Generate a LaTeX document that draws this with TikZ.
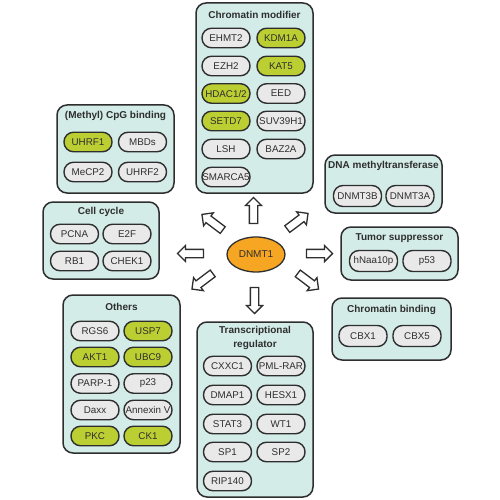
\documentclass[tikz,border=0pt]{standalone}
\usepackage{fontspec}
\setmainfont{Liberation Sans}
\usepackage{tikz}
\usetikzlibrary{shapes.geometric,shapes.arrows}
\definecolor{grpfill}{HTML}{D3ECE8}
\definecolor{genegray}{HTML}{E9E9E9}
\definecolor{genegreen}{HTML}{BBCF33}
\definecolor{huborange}{HTML}{F6A623}
\definecolor{edgedark}{HTML}{2E2E2E}
\tikzset{
  grp/.style={draw=edgedark, fill=grpfill, line width=1.5pt, rounded corners=10pt, inner sep=0pt},
  grptitle/.style={font=\fontsize{10}{14}\selectfont\bfseries, text=edgedark, align=center, inner sep=0pt},
  gene/.style={draw=edgedark, fill=genegray, line width=1.4pt, rounded corners=9.5pt, minimum width=48pt, minimum height=19.5pt, inner sep=0pt, text=edgedark, font=\fontsize{9.8}{10}\selectfont},
  genehi/.style={gene, fill=genegreen},
  hub/.style={ellipse, draw=edgedark, fill=huborange, line width=1.3pt, minimum width=58pt, minimum height=35pt, inner sep=0pt, text=edgedark, font=\fontsize{10}{11}\selectfont},
  bigarrow/.style={single arrow, draw=edgedark, fill=white, line width=1.3pt, minimum height=26pt, single arrow head extend=4pt, inner sep=3.5pt}
}

\begin{document}
\begin{tikzpicture}[x=1pt, y=-1pt]
  \useasboundingbox (0,0) rectangle (500,500);

  % group boxes
  \node[grp, minimum width=117pt, minimum height=190pt] (chrommod) at (254.5,98) {};
  \node[grp, minimum width=117pt, minimum height=88pt] (cpg) at (115.5,149) {};
  \node[grp, minimum width=116pt, minimum height=77pt] (cellcyc) at (101,240.5) {};
  \node[grp, minimum width=117pt, minimum height=158pt] (others) at (121.5,374) {};
  \node[grp, minimum width=116pt, minimum height=175pt] (transreg) at (255,409.5) {};
  \node[grp, minimum width=117pt, minimum height=58pt] (dnmtgrp) at (383.5,184) {};
  \node[grp, minimum width=117pt, minimum height=53pt] (tumsup) at (399.5,253.5) {};
  \node[grp, minimum width=119pt, minimum height=62pt] (chrombind) at (391.5,329) {};

  % titles
  \node[grptitle] (chrommod-t) at (254.5,15) {Chromatin modifier};
  \node[grptitle] (cpg-t) at (115.5,116) {(Methyl) CpG binding};
  \node[grptitle] (cellcyc-t) at (101,212) {Cell cycle};
  \node[grptitle] (others-t) at (121.5,307) {Others};
  \node[grptitle] (transreg-t) at (255,338) {Transcriptional\\regulator};
  \node[grptitle] (dnmtgrp-t) at (383.5,166) {DNA methyltransferase};
  \node[grptitle] (tumsup-t) at (399.5,238) {Tumor suppressor};
  \node[grptitle] (chrombind-t) at (391.5,310) {Chromatin binding};

  % chromatin modifier
  \node[gene] (ehmt2) at (226,38) {EHMT2};
  \node[genehi] (kdm1a) at (281,38) {KDM1A};
  \node[gene] (ezh2) at (226,66) {EZH2};
  \node[genehi] (kat5) at (281,66) {KAT5};
  \node[genehi] (hdac12) at (226,93.5) {HDAC1/2};
  \node[gene] (eed) at (281,93.5) {EED};
  \node[genehi] (setd7) at (226,121) {SETD7};
  \node[gene] (suv39h1) at (281,121) {SUV39H1};
  \node[gene] (lsh) at (226,149) {LSH};
  \node[gene] (baz2a) at (281,149) {BAZ2A};
  \node[gene] (smarca5) at (226,177) {\makebox[44pt]{SMARCA5}};

  % (methyl) CpG binding
  \node[genehi] (uhrf1) at (88,142) {UHRF1};
  \node[gene] (mbds) at (142.5,142) {MBDs};
  \node[gene] (mecp2) at (88,172) {MeCP2};
  \node[gene] (uhrf2) at (142.5,172) {UHRF2};

  % cell cycle
  \node[gene] (pcna) at (74.5,234) {PCNA};
  \node[gene] (e2f) at (127,234) {E2F};
  \node[gene] (rb1) at (74.5,261) {RB1};
  \node[gene] (chek1) at (127,261) {CHEK1};

  % others
  \node[gene] (rgs6) at (95,331) {RGS6};
  \node[genehi] (usp7) at (148,331) {USP7};
  \node[genehi] (akt1) at (95,357) {AKT1};
  \node[genehi] (ubc9) at (148,357) {UBC9};
  \node[gene] (parp1) at (95,383.5) {PARP-1};
  \node[gene] (p23) at (148,383.5) {p23};
  \node[gene] (daxx) at (95,410) {Daxx};
  \node[gene] (annexinv) at (148,410) {Annexin V};
  \node[genehi] (pkc) at (95,436) {PKC};
  \node[genehi] (ck1) at (148,436) {CK1};

  % transcriptional regulator
  \node[gene] (cxxc1) at (227.5,366) {CXXC1};
  \node[gene] (pmlrar) at (281,366) {PML-RAR};
  \node[gene] (dmap1) at (227.5,395) {DMAP1};
  \node[gene] (hesx1) at (281,395) {HESX1};
  \node[gene] (stat3) at (227.5,424) {STAT3};
  \node[gene] (wt1) at (281,424) {WT1};
  \node[gene] (sp1) at (227.5,452) {SP1};
  \node[gene] (sp2) at (281,452) {SP2};
  \node[gene] (rip140) at (227.5,481) {RIP140};

  % DNA methyltransferase, tumor suppressor, chromatin binding
  \node[gene, minimum height=21pt] (dnmt3b) at (357.5,196) {DNMT3B};
  \node[gene, minimum height=21pt] (dnmt3a) at (410,196) {DNMT3A};
  \node[gene, minimum height=21pt] (hnaa10p) at (373.5,261) {hNaa10p};
  \node[gene, minimum height=21pt] (p53) at (427,261) {p53};
  \node[gene, minimum height=21pt] (cbx1) at (363,336) {CBX1};
  \node[gene, minimum height=21pt] (cbx5) at (417,336) {CBX5};

  % hub and arrows
  \node[hub] (dnmt1) at (256,254.5) {DNMT1};
  \node[bigarrow, rotate=90] (to-chrommod) at (253.5,212.5) {};
  \node[bigarrow, rotate=-90] (to-transreg) at (254.5,298.5) {};
  \node[bigarrow, rotate=180] (to-cellcyc) at (192.5,253.5) {};
  \node[bigarrow] (to-tumsup) at (317.5,253.5) {};
  \node[bigarrow, rotate=143] (to-cpg) at (214,223.5) {};
  \node[bigarrow, rotate=37] (to-dnmtgrp) at (296,222.5) {};
  \node[bigarrow, rotate=217] (to-others) at (204,280) {};
  \node[bigarrow, rotate=-37] (to-chrombind) at (306.5,280) {};
\end{tikzpicture}
\end{document}
